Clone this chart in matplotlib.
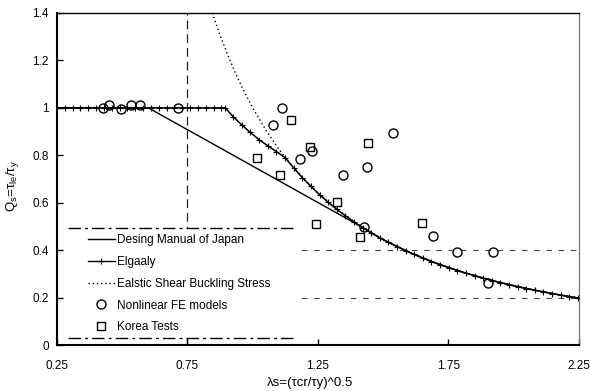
import matplotlib
matplotlib.use("Agg")
import matplotlib.pyplot as plt
from matplotlib.patches import Rectangle
from matplotlib.lines import Line2D

plt.rcParams['font.family'] = ['Liberation Sans', 'DejaVu Sans']

# ---- data ----
japan_lam = [0.25, 0.60, 1.414, 1.50, 1.60, 1.70, 1.80, 1.90, 2.00, 2.10, 2.20, 2.25]
japan_q = [1.0, 1.0, 0.50, 0.444, 0.391, 0.346, 0.309, 0.277, 0.250, 0.227, 0.207, 0.198]

elg_lam = [0.25, 0.28, 0.31, 0.34, 0.37, 0.40, 0.43, 0.46, 0.49, 0.52, 0.55, 0.58,
           0.61, 0.64, 0.67, 0.70, 0.73, 0.76, 0.79, 0.82, 0.85, 0.88, 0.895,
           0.925, 0.958, 0.99, 1.024, 1.058, 1.091, 1.124, 1.157, 1.19, 1.223,
           1.256, 1.289, 1.322, 1.355, 1.388, 1.421, 1.454, 1.487, 1.52, 1.553,
           1.586, 1.619, 1.652, 1.685, 1.718, 1.751, 1.784, 1.817, 1.85, 1.883,
           1.916, 1.949, 1.982, 2.015, 2.048, 2.081, 2.114, 2.147, 2.18, 2.213, 2.246]
elg_q = [1.0] * 23 + [0.963, 0.928, 0.897, 0.866, 0.84, 0.815, 0.79, 0.747, 0.706,
                      0.669, 0.634, 0.602, 0.572, 0.545, 0.519, 0.495, 0.473, 0.452,
                      0.433, 0.415, 0.398, 0.382, 0.366, 0.352, 0.339, 0.326, 0.314,
                      0.303, 0.292, 0.282, 0.272, 0.263, 0.255, 0.246, 0.238, 0.231,
                      0.224, 0.217, 0.210, 0.204, 0.198]

ela_lam = [0.845, 0.87, 0.90, 0.93, 0.96, 1.00, 1.05, 1.10, 1.15, 1.20, 1.30, 1.414,
           1.50, 1.60, 1.70, 1.80, 1.90, 2.00, 2.10, 2.20, 2.25]
ela_q = [1.40, 1.321, 1.235, 1.156, 1.085, 1.0, 0.907, 0.826, 0.756, 0.694, 0.592, 0.50,
         0.444, 0.391, 0.346, 0.309, 0.277, 0.250, 0.227, 0.207, 0.198]

fe_lam = [0.425, 0.449, 0.494, 0.532, 0.568, 0.715, 1.111, 1.076, 1.183, 1.226, 1.347,
          1.439, 1.536, 1.426, 1.689, 1.781, 1.921, 1.902]
fe_q = [1.001, 1.01, 0.996, 1.01, 1.01, 1.0, 0.999, 0.928, 0.783, 0.816, 0.717,
        0.752, 0.896, 0.497, 0.461, 0.394, 0.394, 0.26]

kt_lam = [1.145, 1.015, 1.104, 1.219, 1.443, 1.322, 1.242, 1.413, 1.65]
kt_q = [0.949, 0.79, 0.717, 0.837, 0.85, 0.601, 0.511, 0.457, 0.516]

xticks = [0.25, 0.75, 1.25, 1.75, 2.25]
xtick_labels = ['0.25', '0.75', '1.25', '1.75', '2.25']
yticks = [0, 0.2, 0.4, 0.6, 0.8, 1.0, 1.2, 1.4]
ytick_labels = ['0', '0.2', '0.4', '0.6', '0.8', '1', '1.2', '1.4']
grid_x = [0.75]
grid_y = [0.2, 0.4]

labels = ['Desing Manual of Japan', 'Elgaaly', 'Ealstic Shear Buckling Stress',
          'Nonlinear FE models', 'Korea Tests']

# ---- figure ----
fig = plt.figure(figsize=(5.91, 3.91), dpi=100)
ax = fig.add_axes([0.0964, 0.1176, 0.8832, 0.8492])
ax.set_xlim(0.25, 2.25)
ax.set_ylim(0, 1.4)

for gx in grid_x:
    ax.axvline(gx, color='#222222', lw=0.9, ls=(0, (7, 4)), zorder=1)
for gy in grid_y:
    ax.axhline(gy, color='#444444', lw=0.8, ls=(0, (5, 6)), zorder=1)

ax.plot(japan_lam, japan_q, color='black', lw=1.0, zorder=3)
ax.plot(elg_lam, elg_q, color='black', lw=1.1, marker='+', ms=4.5, mew=0.8, zorder=3)
ax.plot(ela_lam, ela_q, color='black', lw=1.0, ls=(0, (1, 2)), zorder=2)
ax.plot(fe_lam, fe_q, ls='none', marker='o', ms=6.5, mfc='none', mec='black', mew=1.0, zorder=4)
ax.plot(kt_lam, kt_q, ls='none', marker='s', ms=6, mfc='none', mec='black', mew=1.0, zorder=4)

# legend box: white area with dash-dot top and bottom edges only
bx0, by0, bw, bh = 0.021, 0.021, 0.439, 0.331
ax.add_patch(Rectangle((bx0, by0), bw, bh, transform=ax.transAxes,
                       facecolor='white', edgecolor='none', zorder=5))
for yy in (by0, by0 + bh):
    ax.plot([bx0, bx0 + bw], [yy, yy], transform=ax.transAxes, color='black',
            lw=1.0, ls=(0, (9, 3, 2, 3)), zorder=5.5)

handles = [
    Line2D([], [], color='black', lw=1.0),
    Line2D([], [], color='black', lw=1.0, marker='+', ms=4.5, mew=0.8),
    Line2D([], [], color='black', lw=1.0, ls=(0, (1, 2))),
    Line2D([], [], ls='none', marker='o', ms=6.5, mfc='none', mec='black', mew=1.0),
    Line2D([], [], ls='none', marker='s', ms=6, mfc='none', mec='black', mew=1.0),
]
leg = ax.legend(handles, labels, loc='upper left', bbox_to_anchor=(0.059, 0.334),
                frameon=False, fontsize=8.5, handlelength=2.3, handletextpad=0.15,
                labelspacing=0.83, borderpad=0, borderaxespad=0, numpoints=1)
leg.set_zorder(6)

ax.set_xticks(xticks)
ax.set_xticklabels(xtick_labels)
ax.set_yticks(yticks)
ax.set_yticklabels(ytick_labels)
ax.tick_params(direction='in', length=4, width=1, labelsize=8.5, colors='black')
ax.tick_params(axis='x', pad=11)
ax.tick_params(axis='y', pad=6)

for s in ['left', 'bottom']:
    ax.spines[s].set_linewidth(1.5)
ax.spines['top'].set_linewidth(1.0)
ax.spines['right'].set_linewidth(0.9)
ax.spines['right'].set_color('#777777')
ax.spines['right'].set_linestyle((0, (2, 1)))

ax.set_xlabel('λs=(τcr/τy)^0.5', fontsize=9.5)
ax.xaxis.set_label_coords(0.485, -0.095)
ax.set_ylabel('Q$_\\mathregular{s}$=τ$_\\mathregular{le}$/τ$_\\mathregular{y}$', fontsize=9.5)
ax.yaxis.set_label_coords(-0.068, 0.48)

fig.savefig('out.png', dpi=100)
